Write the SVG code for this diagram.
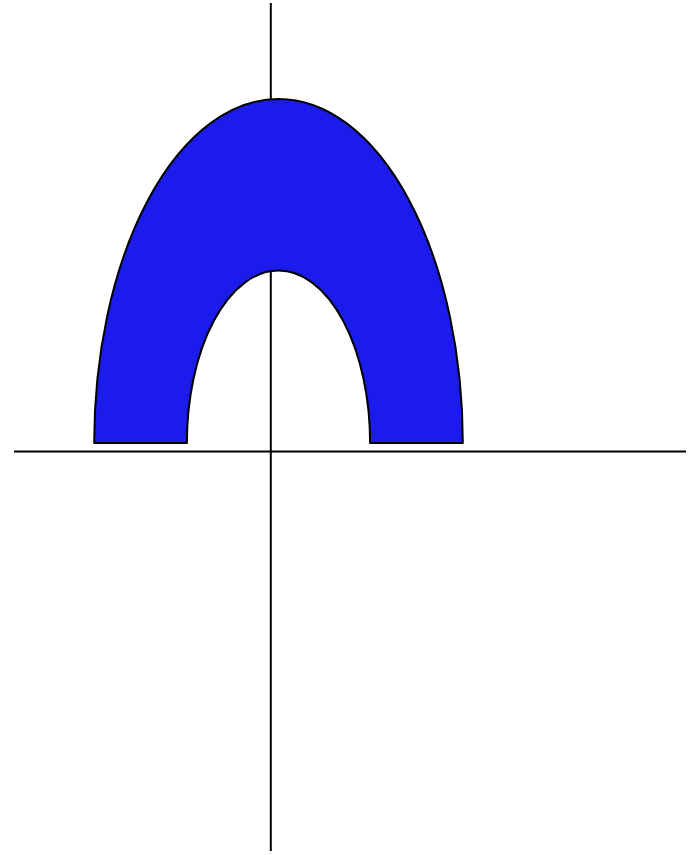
<svg xmlns="http://www.w3.org/2000/svg" width="691" height="855" viewBox="0 0 691 855">
<style>
.axis{stroke:#000;stroke-width:2;fill:none}
.shape{fill:#1b1bec;stroke:#000;stroke-width:2;stroke-linejoin:round}
</style>
<rect width="691" height="855" fill="#fff"/>
<g id="axes">
<line class="axis" x1="14" y1="451.5" x2="686" y2="451.5"/>
<line class="axis" x1="270.8" y1="3" x2="270.8" y2="851"/>
</g>
<g id="arch">
<path class="shape" d="M94.2 443 A184.3 344 0 0 1 462.8 443 L370.1 443 A91.6 172.5 0 0 0 186.9 443 Z"/>
</g>
</svg>
